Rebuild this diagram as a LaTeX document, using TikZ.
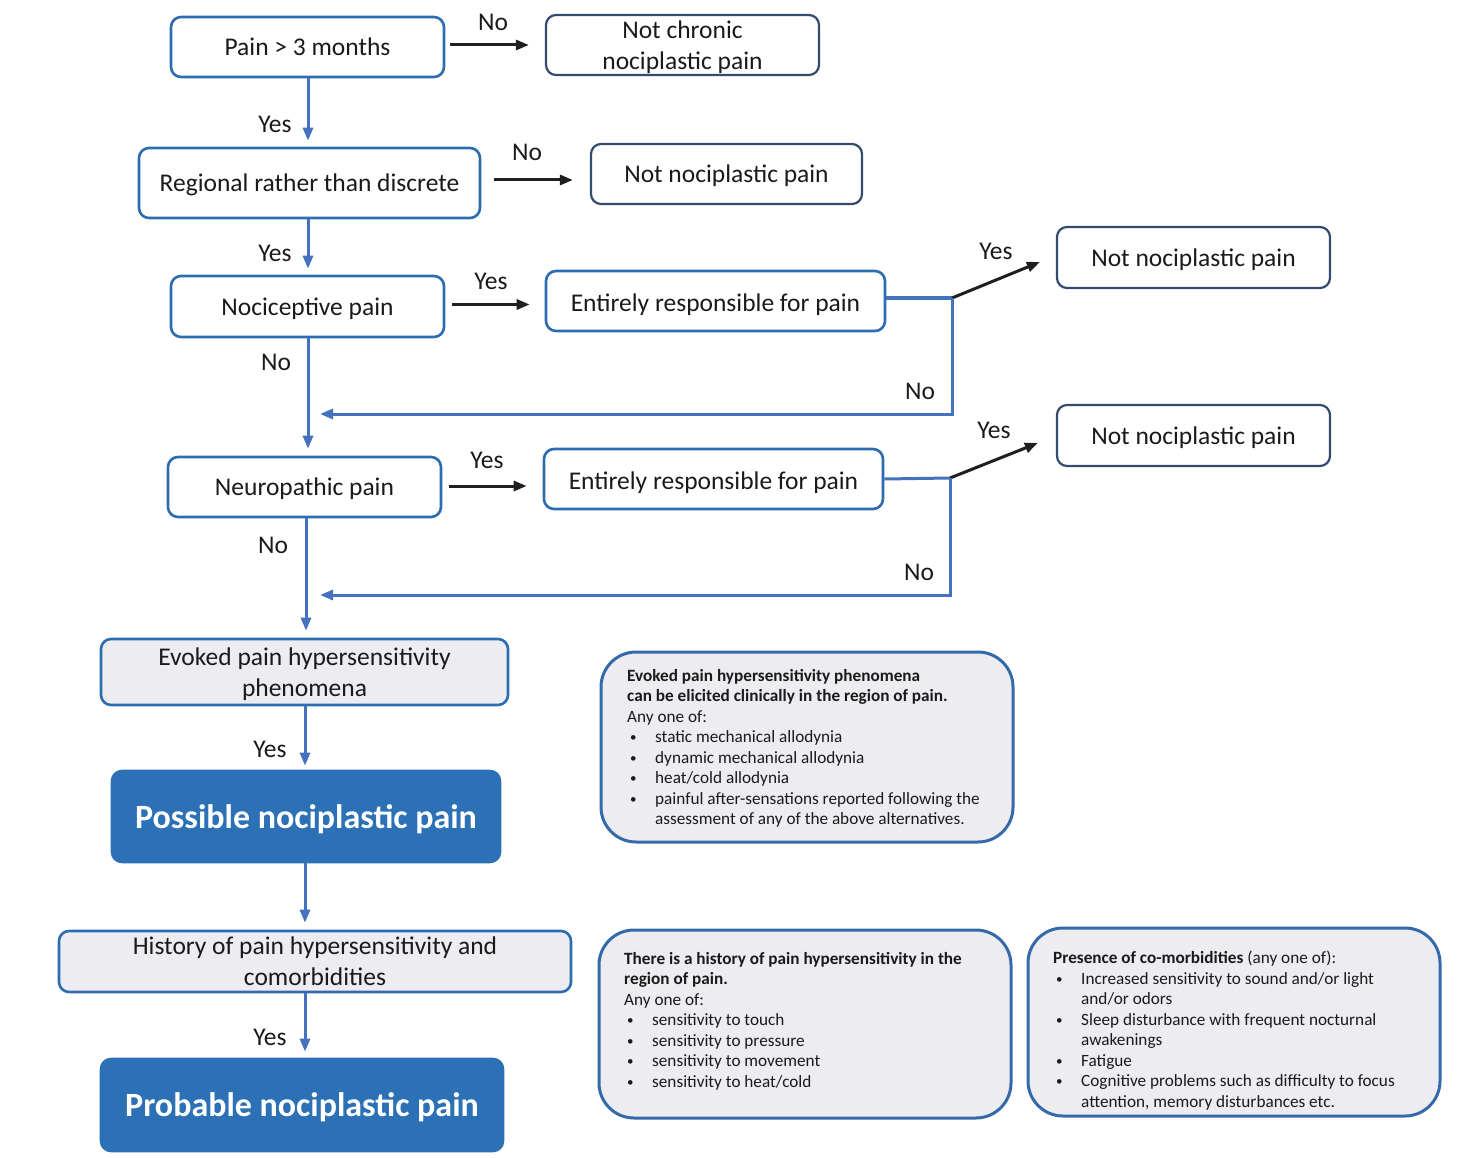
\documentclass[tikz,border=0pt]{standalone}
\usepackage{fontspec}
\setmainfont{Carlito}
\usetikzlibrary{arrows.meta,calc}
\definecolor{boxblue}{RGB}{46,108,178}
\definecolor{slate}{RGB}{52,74,110}
\definecolor{fillblue}{RGB}{44,112,182}
\definecolor{graybg}{RGB}{237,237,241}
\definecolor{infoblue}{RGB}{52,106,170}
\definecolor{conn}{RGB}{68,114,190}
\definecolor{txt}{RGB}{26,26,26}
\newcommand\bl{\hspace*{3pt}\makebox[25pt][l]{\raisebox{1pt}{\fontsize{13}{13}\selectfont •}}}
\newcommand\ct{\hspace*{28pt}}
\begin{document}
\begin{tikzpicture}[x=1pt,y=-1pt]
\tikzset{
 box/.style={draw=boxblue, line width=2.6pt, rounded corners=10pt, fill=white, inner sep=0pt, align=center, font=\fontsize{25.5}{31}\selectfont, text=txt, text depth=0pt},
 nbox/.style={box, draw=slate, line width=2.2pt},
 gbox/.style={box, fill=graybg},
 bigbox/.style={box, fill=fillblue, draw=fillblue, text=white, font=\fontsize{34}{40}\selectfont\bfseries},
 info/.style={draw=infoblue, line width=3pt, rounded corners=35pt, fill=graybg, inner sep=0pt},
 infotext/.style={anchor=north west, inner sep=0pt, align=left, text=txt, font=\fontsize{17.2}{20.5}\selectfont},
 lab/.style={font=\fontsize{25.5}{30}\selectfont, text=txt, inner sep=0pt},
 tip/.style={-{Triangle[length=13pt,width=10pt]}},
 blu/.style={draw=conn, line width=3pt},
 bluarr/.style={blu, tip},
 blk/.style={draw=black!88, line width=3pt, tip},
}
\useasboundingbox (0,0) rectangle (1466,1158);
\fill[white] (0,0) rectangle (1466,1158);

% main column
\node[box, minimum width=273pt, minimum height=60pt] (n1) at (307.5,47) {Pain > 3 months};
\node[nbox, minimum width=273pt, minimum height=60pt] (n1r) at (682.5,45) {Not chronic\\nociplastic pain};
\node[box, minimum width=341pt, minimum height=70pt] (n2) at (309.5,183) {Regional rather than discrete};
\node[nbox, minimum width=271pt, minimum height=60pt] (n2r) at (726.5,174) {Not nociplastic pain};
\node[box, minimum width=273pt, minimum height=61pt] (n3) at (307.5,306.5) {Nociceptive pain};
\node[box, minimum width=339pt, minimum height=60pt] (n3r) at (715.5,301) {\raisebox{-3.5pt}{Entirely responsible for pain}};
\node[nbox, minimum width=273pt, minimum height=61pt] (n3rr) at (1193.5,257.5) {Not nociplastic pain};
\node[box, minimum width=273pt, minimum height=60pt] (n4) at (304.5,487) {Neuropathic pain};
\node[box, minimum width=339pt, minimum height=60pt] (n4r) at (713.5,479) {\raisebox{-3pt}{Entirely responsible for pain}};
\node[nbox, minimum width=273pt, minimum height=61pt] (n4rr) at (1193.5,435.5) {Not nociplastic pain};
\node[gbox, minimum width=407pt, minimum height=66pt] (n5) at (304.5,672) {Evoked pain hypersensitivity\\phenomena};
\node[bigbox, minimum width=388pt, minimum height=91pt] (n6) at (306,816.5) {Possible nociplastic pain};
\node[gbox, minimum width=512pt, minimum height=61pt] (n7) at (315,961.5) {History of pain hypersensitivity and\\comorbidities};
\node[bigbox, minimum width=402pt, minimum height=92pt] (n8) at (302,1105) {Probable nociplastic pain};

% info boxes
\node[info, minimum width=412pt, minimum height=190pt] (i1) at (807,747) {};
\node[info, minimum width=412pt, minimum height=188pt] (i2) at (805,1024) {};
\node[info, minimum width=412pt, minimum height=188pt] (i3) at (1234,1022) {};
\node[infotext] (t1) at (627,669) {\textbf{Evoked pain hypersensitivity phenomena}\\
\textbf{can be elicited clinically in the region of pain.}\\
Any one of:\\
\bl static mechanical allodynia\\
\bl dynamic mechanical allodynia\\
\bl heat/cold allodynia\\
\bl painful after-sensations reported following the\\
\ct assessment of any of the above alternatives.};
\node[infotext] (t2) at (624,952) {\textbf{There is a history of pain hypersensitivity in the}\\
\textbf{region of pain.}\\
Any one of:\\
\bl sensitivity to touch\\
\bl sensitivity to pressure\\
\bl sensitivity to movement\\
\bl sensitivity to heat/cold};
\node[infotext] (t3) at (1053,951) {\textbf{Presence of co-morbidities} (any one of):\\
\bl Increased sensitivity to sound and/or light\\
\ct and/or odors\\
\bl Sleep disturbance with frequent nocturnal\\
\ct awakenings\\
\bl Fatigue\\
\bl Cognitive problems such as difficulty to focus\\
\ct attention, memory disturbances etc.};

% junction coordinates
\coordinate (j1) at (952,298);
\coordinate (m1) at (320,414);
\coordinate (j2) at (950,478);
\coordinate (m2) at (320,595);

% horizontal arrows
\draw[blk] ([xshift=5pt,yshift=2pt]n1.east) -- ([xshift=-16pt,yshift=2pt]n1.east -| n1r.west);
\draw[blk] ([xshift=13pt,yshift=3pt]n2.east) -- ([xshift=-17pt,yshift=3pt]n2.east -| n2r.west);
\draw[blk] ([xshift=7pt,yshift=2pt]n3.east) -- ([xshift=-15pt,yshift=2pt]n3.east -| n3r.west);
\draw[blk] ([xshift=7pt,yshift=1pt]n4.east) -- ([xshift=-16pt,yshift=1pt]n4.east -| n4r.west);

% feedback lines
\draw[blu, line width=4pt] ([yshift=3pt]n3r.east) -- (j1);
\draw[blk] (j1) -- ([xshift=-16pt,yshift=-4.5pt]n3rr.west);
\draw[bluarr] (j1) |- (m1);
\draw[blu] (n4r.east) -- (j2);
\draw[blk] (j2) -- ([xshift=-18pt,yshift=-7.5pt]n4rr.west);
\draw[bluarr] (j2) |- (m2);

% vertical arrows
\draw[bluarr, shorten >=6pt] ([xshift=0.5pt]n1.south) -- ([xshift=0.5pt]n1.south |- n2.north);
\draw[bluarr, shorten >=6pt] ([xshift=-1.5pt]n2.south) -- ([xshift=-1.5pt]n2.south |- n3.north);
\draw[bluarr, shorten >=7pt] ([xshift=0.5pt]n3.south) -- ([xshift=0.5pt]n3.south |- n4.north);
\draw[bluarr, shorten >=7pt] ([xshift=1.5pt]n4.south) -- ([xshift=1.5pt]n4.south |- n5.north);
\draw[bluarr, shorten >=4pt] ([xshift=0.5pt]n5.south) -- ([xshift=0.5pt]n5.south |- n6.north);
\draw[bluarr, shorten >=7pt] ([xshift=-1pt]n6.south) -- ([xshift=-1pt]n6.south |- n7.north);
\draw[bluarr, shorten >=6pt] ([xshift=-10pt]n7.south) -- ([xshift=-10pt]n7.south |- n8.north);

% labels
\node[lab] (l1) at (493,22) {No};
\node[lab] (l2) at (527,152) {No};
\node[lab] (l3) at (275,124) {Yes};
\node[lab] (l4) at (275,253) {Yes};
\node[lab] (l5) at (491,281) {Yes};
\node[lab] (l6) at (996,251) {Yes};
\node[lab] (l7) at (920,391) {No};
\node[lab] (l8) at (276,362) {No};
\node[lab] (l9) at (487,460) {Yes};
\node[lab] (l10) at (994,430) {Yes};
\node[lab] (l11) at (919,572) {No};
\node[lab] (l12) at (273,545) {No};
\node[lab] (l13) at (270,749) {Yes};
\node[lab] (l14) at (270,1037) {Yes};
\end{tikzpicture}
\end{document}
